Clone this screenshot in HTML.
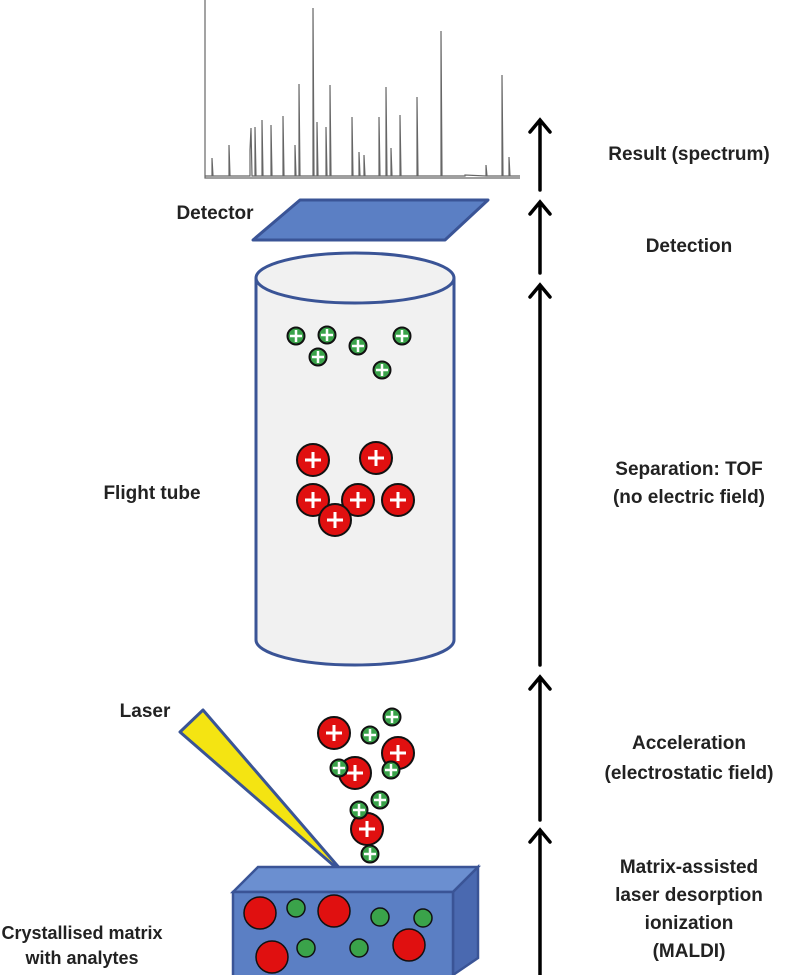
<!DOCTYPE html>
<html><head><meta charset="utf-8"><style>
html,body{margin:0;padding:0;background:#fff}
svg{display:block}
text{font-family:"Liberation Sans",Arial,sans-serif;font-weight:bold;font-size:19px;fill:#222;text-anchor:middle}
</style></head><body>
<svg width="799" height="975" viewBox="0 0 799 975" xmlns="http://www.w3.org/2000/svg">
<defs>
<g id="gp"><circle r="8.5" fill="#3aa34a" stroke="#111" stroke-width="2"/><path d="M-6 0H6M0 -6V6" stroke="#fff" stroke-width="2.5"/></g>
<g id="rp"><circle r="16" fill="#e01010" stroke="#111" stroke-width="2"/><path d="M-8 0H8M0 -8V8" stroke="#fff" stroke-width="3"/></g>
</defs>
<g stroke="#666" stroke-width="1.2" fill="none">
<path d="M205 0V178H520"/>
<path d="M205 176 L212 176 212 158 213 176 229 176 229 145 230 176 250 176 250 150 251 128 252 176 255 176 255 127 256 176 262 176 262 120 263 176 271 176 271 125 272 176 283 176 283 116 284 176 295 176 295 145 296 176 299 176 299 84 300 176 313 176 313 8 314 176 317 176 317 122 318 176 326 176 326 127 327 176 330 176 330 85 331 176 352 176 352 117 353 176 359 176 359 152 360 176 364 176 364 155 365 176 379 176 379 117 380 176 386 176 386 87 387 176 391 176 391 148 392 176 400 176 400 115 401 176 417 176 417 97 418 176 441 176 441 31 442 176 465 176 465 175 486 176 486 165 487 176 502 176 502 75 503 176 509 176 509 157 510 176 520 176"/>
</g>
<polygon points="253,240 300,200 488,200 445,240" fill="#5b7fc4" stroke="#3a5496" stroke-width="3" stroke-linejoin="round"/>
<path d="M256 278 V640 A99 25 0 0 0 454 640 V278" fill="#f1f1f1" stroke="#3a5496" stroke-width="3"/>
<ellipse cx="355" cy="278" rx="99" ry="25" fill="#f1f1f1" stroke="#3a5496" stroke-width="3"/>
<use href="#gp" x="296" y="336"/><use href="#gp" x="327" y="335"/><use href="#gp" x="318" y="357"/><use href="#gp" x="358" y="346"/><use href="#gp" x="402" y="336"/><use href="#gp" x="382" y="370"/>
<use href="#rp" x="313" y="460"/><use href="#rp" x="376" y="458"/><use href="#rp" x="313" y="500"/><use href="#rp" x="358" y="500"/><use href="#rp" x="398" y="500"/><use href="#rp" x="335" y="520"/>
<polygon points="203,710 180,732 348,878" fill="#f4e412" stroke="#3a5496" stroke-width="3" stroke-linejoin="round"/>
<polygon points="233,892 258,867 478,867 453,892" fill="#6b8fd0" stroke="#3a5496" stroke-width="2.5"/>
<polygon points="453,892 478,867 478,958 453,975" fill="#4a69b0" stroke="#3a5496" stroke-width="2.5"/>
<rect x="233" y="892" width="220" height="85" fill="#5b7fc4" stroke="#3a5496" stroke-width="2.5"/>
<g stroke="#111" stroke-width="1.5">
<circle cx="260" cy="913" r="16" fill="#e01010"/><circle cx="334" cy="911" r="16" fill="#e01010"/><circle cx="272" cy="957" r="16" fill="#e01010"/><circle cx="409" cy="945" r="16" fill="#e01010"/>
<circle cx="296" cy="908" r="9" fill="#3aa34a"/><circle cx="380" cy="917" r="9" fill="#3aa34a"/><circle cx="423" cy="918" r="9" fill="#3aa34a"/><circle cx="306" cy="948" r="9" fill="#3aa34a"/><circle cx="359" cy="948" r="9" fill="#3aa34a"/>
</g>
<use href="#rp" x="334" y="733"/><use href="#gp" x="392" y="717"/><use href="#gp" x="370" y="735"/>
<use href="#rp" x="398" y="753"/><use href="#rp" x="355" y="773"/><use href="#gp" x="339" y="768"/><use href="#gp" x="391" y="770"/>
<use href="#gp" x="380" y="800"/><use href="#rp" x="367" y="829"/><use href="#gp" x="359" y="810"/><use href="#gp" x="370" y="854"/>
<g stroke="#000" stroke-width="3.5" fill="none" stroke-linecap="round">
<path d="M540 975V830M530 842L540 830 550 842"/>
<path d="M540 820V677M530 689L540 677 550 689"/>
<path d="M540 665V285M530 297L540 285 550 297"/>
<path d="M540 273V202M530 214L540 202 550 214"/>
<path d="M540 190V120M530 132L540 120 550 132"/>
</g>
<text x="215" y="219">Detector</text>
<text x="152" y="499">Flight tube</text>
<text x="145" y="717">Laser</text>
<text x="82" y="939" style="font-size:18px">Crystallised matrix</text>
<text x="82" y="964" style="font-size:18px">with analytes</text>
<text x="689" y="160">Result (spectrum)</text>
<text x="689" y="252">Detection</text>
<text x="689" y="475">Separation: TOF</text>
<text x="689" y="503">(no electric field)</text>
<text x="689" y="749">Acceleration</text>
<text x="689" y="779">(electrostatic field)</text>
<text x="689" y="873">Matrix-assisted</text>
<text x="689" y="901">laser desorption</text>
<text x="689" y="929">ionization</text>
<text x="689" y="957">(MALDI)</text>
</svg>
</body></html>
